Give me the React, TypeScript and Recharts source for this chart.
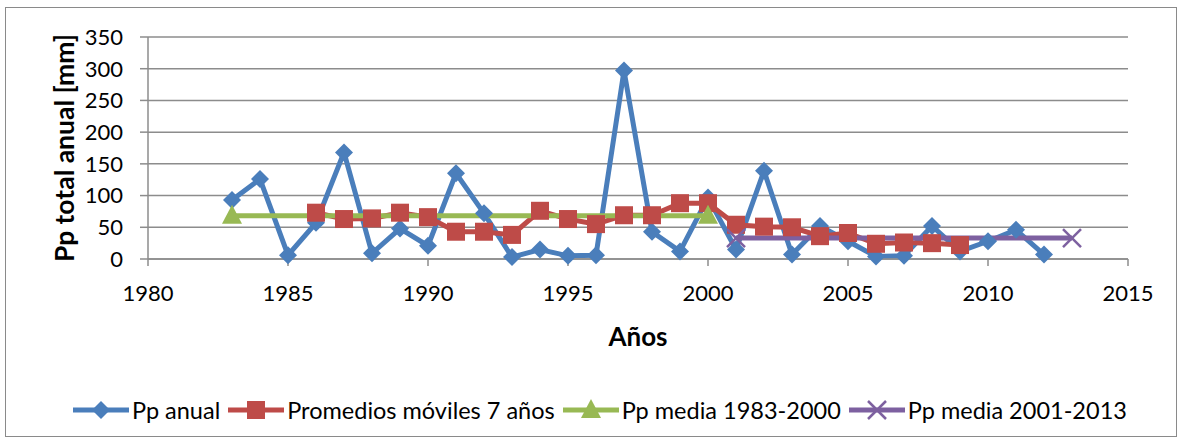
import React from 'react';
import { LineChart, Line, XAxis, YAxis, CartesianGrid } from 'recharts';

// Años
const years = [
  1983, 1984, 1985, 1986, 1987, 1988, 1989, 1990, 1991, 1992, 1993, 1994, 1995, 1996, 1997,
  1998, 1999, 2000, 2001, 2002, 2003, 2004, 2005, 2006, 2007, 2008, 2009, 2010, 2011, 2012, 2013,
];
// Pp anual [mm]
const ppAnual = [
  93, 126, 6, 57, 168, 9, 48, 21, 135, 72, 3, 15, 5, 6, 297,
  43, 12, 97, 15, 139, 7, 52, 28, 4, 5, 52, 12, 28, 46, 7, null,
];
// Promedios móviles 7 años
const promMoviles = [
  null, null, null, 73, 63, 64, 73, 66, 43, 43, 38, 76, 63, 55, 69,
  69, 88, 88, 54, 51, 50, 36, 41, 24, 26, 25, 22, null, null, null, null,
];
const mediaA = { from: 1983, to: 2000, value: 68 };
const mediaB = { from: 2001, to: 2013, value: 33 };

const xTicks = [1980, 1985, 1990, 1995, 2000, 2005, 2010, 2015];
const yTicks = [0, 50, 100, 150, 200, 250, 300, 350];

const data = years.map((year, i) => ({
  year,
  anual: ppAnual[i],
  movil: promMoviles[i],
  mediaA: year === mediaA.from || year === mediaA.to ? mediaA.value : null,
  mediaB: year === mediaB.from || year === mediaB.to ? mediaB.value : null,
}));

const BLUE = '#4A7EBB';
const RED = '#BE4B48';
const GREEN = '#98B954';
const PURPLE = '#7D60A0';
const GRID = '#8C8C8C';
const FONT = 'Lato, "Open Sans", sans-serif';

type Shape = 'diamond' | 'square' | 'triangle' | 'cross';

function marker(shape: Shape, cx: number, cy: number, color: string, key?: string) {
  if (shape === 'diamond') {
    return <polygon key={key} points={`${cx},${cy - 9} ${cx + 9},${cy} ${cx},${cy + 9} ${cx - 9},${cy}`} fill={color} />;
  }
  if (shape === 'square') {
    return <rect key={key} x={cx - 9} y={cy - 9} width={18} height={18} fill={color} />;
  }
  if (shape === 'triangle') {
    return <polygon key={key} points={`${cx},${cy - 11} ${cx + 10},${cy + 8} ${cx - 10},${cy + 8}`} fill={color} />;
  }
  return (
    <g key={key}>
      <line x1={cx - 9} y1={cy - 9} x2={cx + 9} y2={cy + 9} stroke={color} strokeWidth={2.5} />
      <line x1={cx - 9} y1={cy + 9} x2={cx + 9} y2={cy - 9} stroke={color} strokeWidth={2.5} />
    </g>
  );
}

const makeDot = (shape: Shape, color: string) => (props: any) => {
  const { cx, cy, value, index, dataKey } = props;
  if (value == null || cx == null || cy == null) return <g key={`${dataKey}-${index}`} />;
  return marker(shape, cx, cy, color, `${dataKey}-${index}`);
};

const series = [
  { key: 'anual', name: 'Pp anual', color: BLUE, shape: 'diamond' as Shape },
  { key: 'movil', name: 'Promedios móviles 7 años', color: RED, shape: 'square' as Shape },
  { key: 'mediaA', name: 'Pp media 1983-2000', color: GREEN, shape: 'triangle' as Shape },
  { key: 'mediaB', name: 'Pp media 2001-2013', color: PURPLE, shape: 'cross' as Shape },
];

export default function App() {
  return (
    <div style={{ position: 'absolute', left: 0, top: 0, width: 1184, height: 444, background: '#fff', fontFamily: FONT }}>
      <div style={{ position: 'absolute', left: 5, top: 7, width: 1172, height: 430, border: '1px solid #8a8a8a', boxSizing: 'border-box' }} />
      <LineChart width={1184} height={444} data={data} margin={{ top: 37, right: 56, left: 88, bottom: 98 }}>
        <CartesianGrid vertical={false} stroke={GRID} strokeWidth={1.5} />
        <XAxis
          dataKey="year"
          type="number"
          domain={[1980, 2015]}
          ticks={xTicks}
          interval={0}
          height={87}
          tickSize={7}
          stroke={GRID}
          strokeWidth={1.5}
          tick={{ fill: '#000', fontSize: 22, fontFamily: FONT }}
          tickMargin={19}
          label={{ value: 'Años', position: 'insideBottom', offset: 0, fill: '#000', fontSize: 26, fontWeight: 700, fontFamily: FONT }}
        />
        <YAxis
          type="number"
          domain={[0, 350]}
          ticks={yTicks}
          interval={0}
          width={60}
          tickSize={8}
          stroke={GRID}
          strokeWidth={1.5}
          tick={{ fill: '#000', fontSize: 22, fontFamily: FONT }}
          tickMargin={17}
          label={{ value: 'Pp total anual [mm]', angle: -90, position: 'insideLeft', offset: -23, fill: '#000', fontSize: 26.5, fontWeight: 700, fontFamily: FONT, style: { textAnchor: 'middle' } }}
        />
        {series.map((s) => (
          <Line
            key={s.key}
            dataKey={s.key}
            name={s.name}
            stroke={s.color}
            strokeWidth={5}
            connectNulls
            dot={makeDot(s.shape, s.color)}
            activeDot={false}
            isAnimationActive={false}
          />
        ))}
      </LineChart>
      <div style={{ position: 'absolute', left: 73, top: 397, height: 26, display: 'flex', alignItems: 'center', fontSize: 23.5, color: '#000', whiteSpace: 'nowrap' }}>
        {series.map((s) => (
          <div key={s.key} style={{ display: 'flex', alignItems: 'center', marginRight: 8 }}>
            <svg width={56} height={24} style={{ display: 'block' }}>
              <line x1={0} y1={12} x2={56} y2={12} stroke={s.color} strokeWidth={5} />
              {marker(s.shape, 28, 12, s.color)}
            </svg>
            <span style={{ marginLeft: 3 }}>{s.name}</span>
          </div>
        ))}
      </div>
    </div>
  );
}
